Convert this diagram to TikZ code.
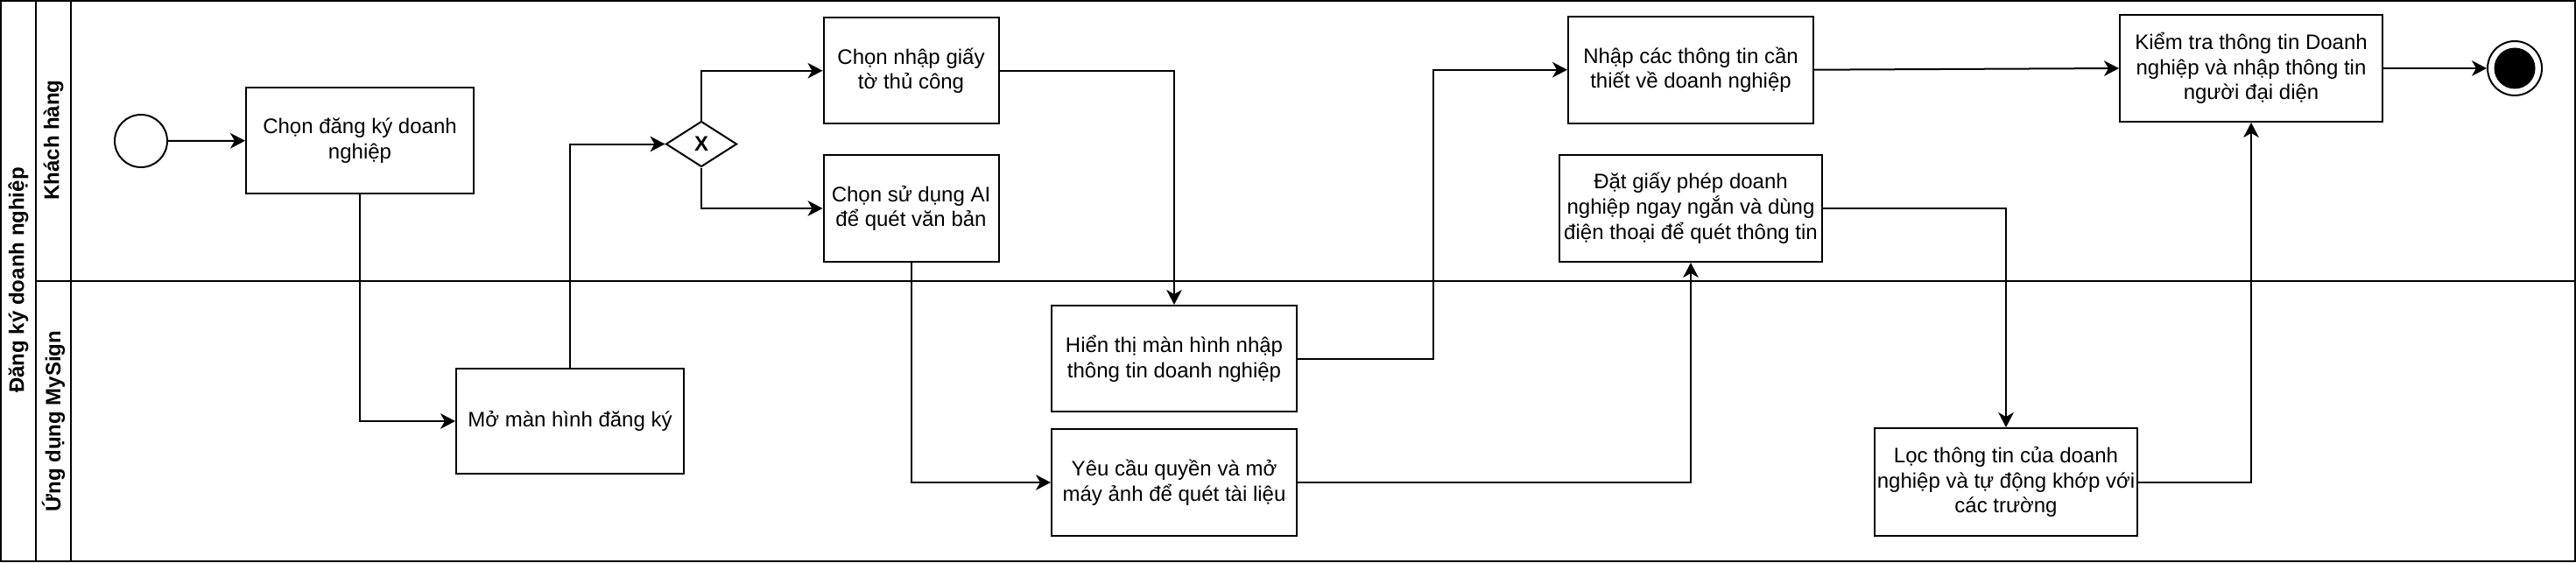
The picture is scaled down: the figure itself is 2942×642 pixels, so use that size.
\documentclass[tikz,border=0pt]{standalone}
\usepackage{fontspec}
\setmainfont{Liberation Sans}
\usetikzlibrary{arrows.meta,shapes.geometric}
\begin{document}
\begin{tikzpicture}[x=0.5pt,y=-0.5pt,
  font=\fontsize{12}{14.4}\selectfont,
  lane/.style={line width=1.05pt},
  task/.style={draw,line width=1pt,align=center,inner sep=0pt,minimum width=#1},
  task/.default=130pt,
  gate/.style={draw,diamond,line width=1pt,inner sep=0pt,minimum width=40.5pt,minimum height=26pt,font=\fontsize{12}{14.4}\selectfont\bfseries},
  startev/.style={draw,circle,line width=1pt,minimum size=30pt,inner sep=0pt},
  endev/.style={draw,circle,line width=1pt,minimum size=31pt,inner sep=0pt},
  flow/.style={line width=1pt,-{Stealth[length=8.5pt,width=8.8pt,inset=2.5pt]}},
  lanelabel/.style={rotate=90,font=\fontsize{12}{14.4}\selectfont\bfseries,inner sep=0pt}
]
\useasboundingbox (0,0) rectangle (2942,642);
% pool and lanes
\draw[lane] (1,1) rectangle (2941,641);
\draw[lane] (41,1) -- (41,641);
\draw[lane] (81,1) -- (81,641);
\draw[lane] (41,320.6) -- (2941,320.6);
\node[lanelabel] (pool) at (21,320) {Đăng ký doanh nghiệp};
\node[lanelabel] (lane1) at (61,160) {Khách hàng};
\node[lanelabel] (lane2) at (61,481) {Ứng dụng MySign};

% nodes
\node[startev] (start) at (161,161) {};
\node[task=130pt,minimum height=60.5pt] (c1) at (411,160.5) {Chọn đăng ký doanh\\nghiệp};
\node[task=130pt,minimum height=60pt] (m) at (651,481) {Mở màn hình đăng ký};
\node[gate] (gw) at (801,164.5) {X};
\node[task=100pt,minimum height=60.25pt] (manual) at (1040.5,80.75) {Chọn nhập giấy\\tờ thủ công};
\node[task=100pt,minimum height=61pt] (ai) at (1040.5,238) {Chọn sử dụng AI\\để quét văn bản};
\node[task=140pt,minimum height=60.5pt] (hien) at (1341,409.5) {Hiển thị màn hình nhập\\thông tin doanh nghiệp};
\node[task=140pt,minimum height=61pt] (yeu) at (1341,551) {Yêu cầu quyền và mở\\máy ảnh để quét tài liệu};
\node[task=140pt,minimum height=61pt] (nhap) at (1931,79.7) {Nhập các thông tin cần\\thiết về doanh nghiệp};
\node[task=150pt,minimum height=61pt] (dat) at (1931,238) {Đặt giấy phép doanh\\nghiệp ngay ngắn và dùng\\điện thoại để quét thông tin};
\node[task=150pt,minimum height=61.5pt] (loc) at (2291,550.5) {Lọc thông tin của doanh\\nghiệp và tự động khớp với\\các trường};
\node[task=150pt,minimum height=61pt] (kiem) at (2571,78) {Kiểm tra thông tin Doanh\\nghiệp và nhập thông tin\\người đại diện};
\node[endev] (end) at (2872,78) {};
\fill (end.center) circle (11.75pt);

% connectors
\draw[flow] (start) -- (c1);
\draw[flow] (c1.south) |- (m.west);
\draw[flow] (m.north) |- (gw.west);
\draw[flow] (gw.north) |- (manual.west);
\draw[flow] (gw.south) |- (ai.west);
\draw[flow] (manual.east) -| (hien.north);
\draw[flow] (ai.south) |- (yeu.west);
\draw[flow] (hien.east) -- ++(155,0) |- (nhap.west);
\draw[flow] (yeu.east) -| (dat.south);
\draw[flow] (dat.east) -| (loc.north);
\draw[flow] (loc.east) -| (kiem.south);
\draw[flow] (nhap.east) -- (kiem.west);
\draw[flow] (kiem.east) -- (end.west);
\end{tikzpicture}
\end{document}
